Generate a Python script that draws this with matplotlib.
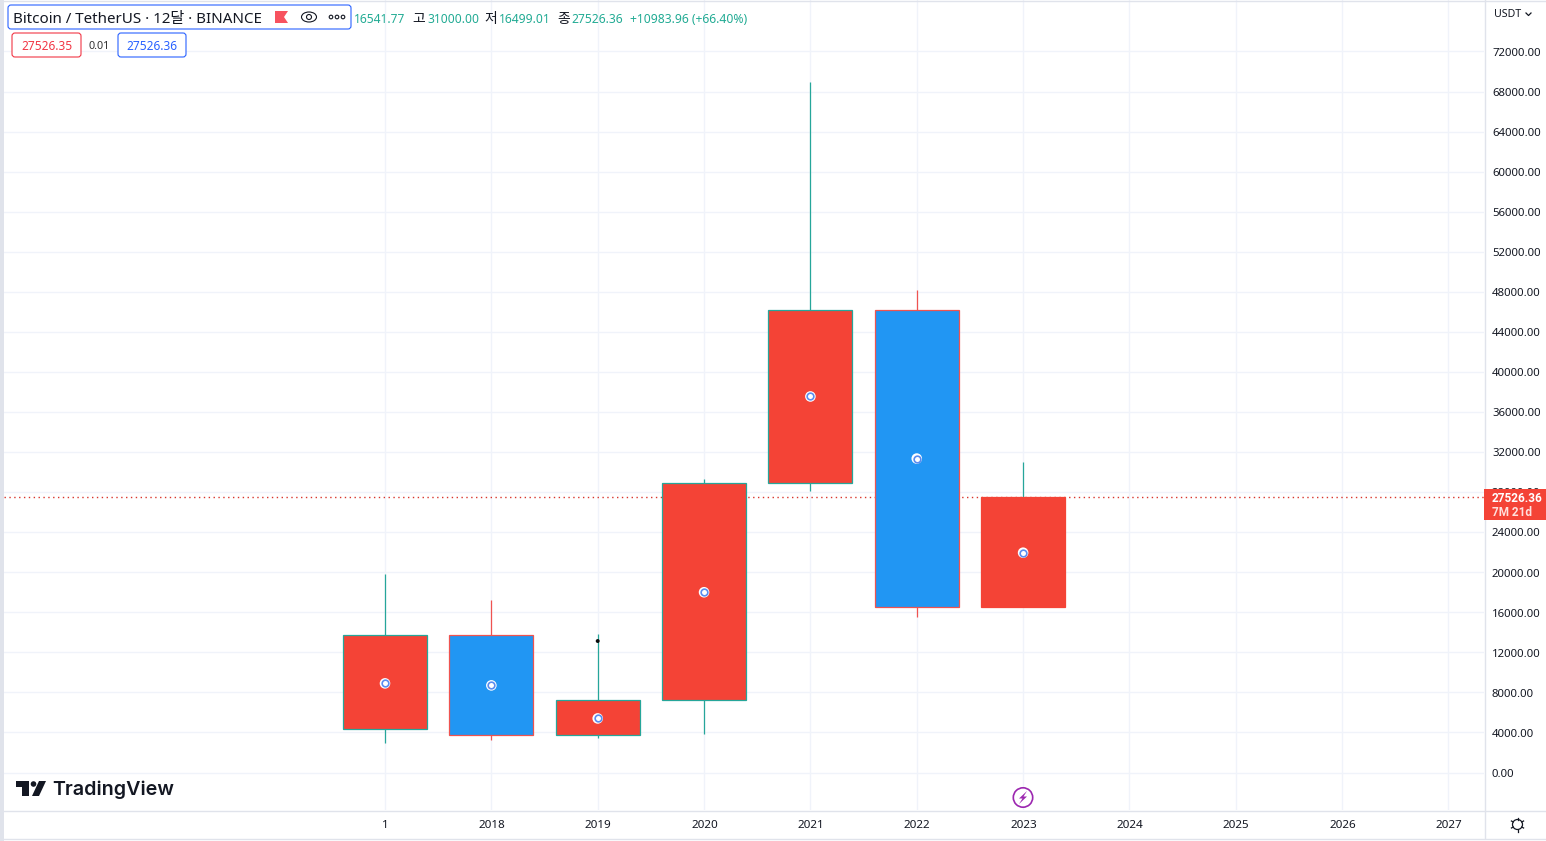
import matplotlib
matplotlib.use("Agg")
import matplotlib.patches as mpatches
import matplotlib.pyplot as plt
import numpy as np

plt.rcParams["font.family"] = ["Noto Sans", "Noto Sans CJK KR", "DejaVu Sans"]

W, H = 1546, 841

tick_labels = ["1", "2018", "2019", "2020", "2021", "2022", "2023",
               "2024", "2025", "2026", "2027"]
opens = [4300, 13700, 3700, 7200, 28900, 46200, 16541.77]
closes = [13700, 3700, 7200, 28900, 46200, 16500, 27526.36]
highs = [19800, 17200, 13800, 29300, 69000, 48200, 31000]
lows = [2900, 3200, 3400, 3800, 28100, 15500, 16499.01]
border_colors = ["#26a69a", "#ef5350", "#26a69a", "#26a69a", "#26a69a", "#ef5350", "#f44336"]
wick_colors = ["#26a69a", "#ef5350", "#26a69a", "#26a69a", "#26a69a", "#ef5350", "#26a69a"]
mids = [8900, 8700, 5400, 18000, 37550, 31350, 21950]
price_ticks = list(range(0, 76000, 4000))
last_price = 27526.36

UP = "#f44336"
DOWN = "#2196f3"
TEAL = "#22ab94"
GRID = "#f0f3fa"
EDGE = "#e0e3eb"
INK = "#131722"

# px -> data for the main pane
X0, DX = 385.0, 106.35
Y0, DY = 772.5, 0.010014

fig = plt.figure(figsize=(W / 100, H / 100), dpi=100, facecolor="white")
ax = fig.add_axes([4 / W, 1 - 810 / H, 1480 / W, 810 / H])
ax.set_xlim((4 - X0) / DX, (1484 - X0) / DX)
ax.set_ylim((Y0 - 810) / DY, Y0 / DY)
ax.set_facecolor("white")
for s in ax.spines.values():
    s.set_visible(False)

ax.set_xticks(range(len(tick_labels)))
ax.set_xticklabels([])
ax.set_yticks(price_ticks)
ax.set_yticklabels([])
ax.tick_params(length=0)
ax.grid(True, color=GRID, lw=1)
ax.set_axisbelow(True)

ax.axhline(last_price, color="#d9352c", lw=1, ls=(0, (1, 2.5)), zorder=1.5)

for i in range(len(opens)):
    bottom, top = sorted((opens[i], closes[i]))
    fill = UP if closes[i] > opens[i] else DOWN
    ax.plot([i, i], [lows[i], highs[i]], color=wick_colors[i], lw=0.9, zorder=2,
            solid_capstyle="butt")
    ax.bar(i, top - bottom, bottom=bottom, width=0.79, color=fill,
           edgecolor=border_colors[i], lw=0.9, zorder=3)

ax.scatter(range(len(mids)), mids, s=58, c="white", edgecolors="none", zorder=4)
ax.scatter(range(len(mids)), mids, s=23, c="white", edgecolors="#5b8def", linewidths=1.2, zorder=5)
ax.scatter([2], [13130], s=8, c="#0b0b0b", edgecolors="none", marker="o", zorder=5)

# chrome drawn in pixel coordinates
ov = fig.add_axes([0, 0, 1, 1], facecolor="none")
ov.set_xlim(0, W)
ov.set_ylim(H, 0)
ov.axis("off")


def label(x, y, s, color=INK, size=8.6, ha="left", **kw):
    ov.text(x, y + 1.5, s, color=color, fontsize=size, ha=ha, va="center", **kw)


def box(x0, y0, x1, y1, edge, face="white", lw=0.8):
    ov.add_patch(mpatches.FancyBboxPatch(
        (x0 + 3, y0 + 3), x1 - x0 - 6, y1 - y0 - 6,
        boxstyle="round,pad=3,rounding_size=3", fc=face, ec=edge, lw=lw, zorder=6))


# outer frame
ov.add_patch(mpatches.Rectangle((0, 0), 4, H, fc=EDGE, ec="none", zorder=6))
ov.plot([0, W], [0.5, 0.5], color=EDGE, lw=1)
ov.plot([4, W], [810.5, 810.5], color=EDGE, lw=1)
ov.plot([0, W], [838.5, 838.5], color=EDGE, lw=1)
ov.plot([1484.5, 1484.5], [0, 838], color=EDGE, lw=1)

# price axis
for p in price_ticks:
    label(1492, Y0 - p * DY + 0.3, f"{p:.2f}", size=8.2)
label(1494, 13, "USDT", size=7.6)
ov.plot([1526, 1528.5, 1531], [13, 15.5, 13], color=INK, lw=0.9)
ov.add_patch(mpatches.Rectangle((1484, 489), 62, 31, fc="#f44336", ec="none", zorder=6))
label(1492, 496.5, f"{last_price:.2f}", color="white", size=8.5, fontweight="bold",
      family=["Roboto", "DejaVu Sans"], zorder=7)
label(1492, 510.5, "7M 21d", color="#ffe0dd", size=8.5, fontweight="bold",
      family=["Roboto", "DejaVu Sans"], zorder=7)

# time axis
for i, t in enumerate(tick_labels):
    label(X0 + 0.5 + i * DX, 824.5, t, size=8.4, ha="center")

# legend header
box(8, 5, 351, 29, "#2962ff")
label(13, 17.5, "Bitcoin / TetherUS · 12달 · BINANCE", size=10.9, zorder=7)
ov.add_patch(mpatches.Polygon([(275, 11), (288, 11), (284, 17), (288, 23), (275, 23)],
                              fc="#f7525f", ec="none", zorder=7))
ov.add_patch(mpatches.Ellipse((309, 17), 15, 10, fc="none", ec=INK, lw=0.8, zorder=7))
ov.add_patch(mpatches.Circle((309, 17), 2.5, fc="none", ec=INK, lw=0.8, zorder=7))
for cx in (331, 337, 343):
    ov.add_patch(mpatches.Circle((cx, 17), 1.8, fc="none", ec=INK, lw=0.8, zorder=7))

label(354, 18, "16541.77", color=TEAL, size=8.7)
label(412, 18, "고", size=10)
label(427, 18, "31000.00", color=TEAL, size=8.7)
label(484, 18, "저", size=10)
label(499, 18, "16499.01", color=TEAL, size=8.7)
label(557, 18, "종", size=10)
label(571, 18, "27526.36", color=TEAL, size=8.7)
label(630, 18, "+10983.96 (+66.40%)", color=TEAL, size=8.75)

box(12, 33, 81, 57, "#f23645")
label(46.5, 44.5, "27526.35", color="#f23645", size=8.6, ha="center", zorder=7)
label(99, 44.5, "0.01", size=7.8, ha="center", color="#333333")
box(118, 33, 186, 57, "#2962ff")
label(152, 44.5, "27526.36", color="#2962ff", size=8.6, ha="center", zorder=7)

# logo
ov.add_patch(mpatches.Polygon([(16, 781), (29, 781), (29, 796), (22, 796), (22, 787), (16, 787)],
                              fc=INK, ec="none"))
ov.add_patch(mpatches.Circle((33.5, 784), 2.8, fc=INK, ec="none"))
ov.add_patch(mpatches.Polygon([(39, 781), (46, 781), (39, 796), (32, 796)], fc=INK, ec="none"))
label(52.5, 788.5, "TradingView", size=14.2, fontweight="semibold", family=["Inter", "DejaVu Sans"])

# dividend / lightning marker
ov.add_patch(mpatches.Circle((1023, 797.5), 9.7, fc="white", ec="#9c27b0", lw=1.2, zorder=6))
ov.add_patch(mpatches.Polygon([(1027, 791), (1019, 798.5), (1022.5, 798.5), (1019, 804),
                               (1027, 796.5), (1023.5, 796.5)], fc="#9c27b0", ec="none", zorder=7))

# settings gear
ov.add_patch(mpatches.Circle((1517.5, 824.5), 5, fc="none", ec=INK, lw=0.9))
for a in np.arange(0, 360, 60) + 30:
    c, s = np.cos(np.radians(a)), np.sin(np.radians(a))
    ov.plot([1517.5 + 5 * c, 1517.5 + 7 * c], [824.5 + 5 * s, 824.5 + 7 * s], color=INK, lw=0.9)

fig.savefig("out.png", dpi=100)
